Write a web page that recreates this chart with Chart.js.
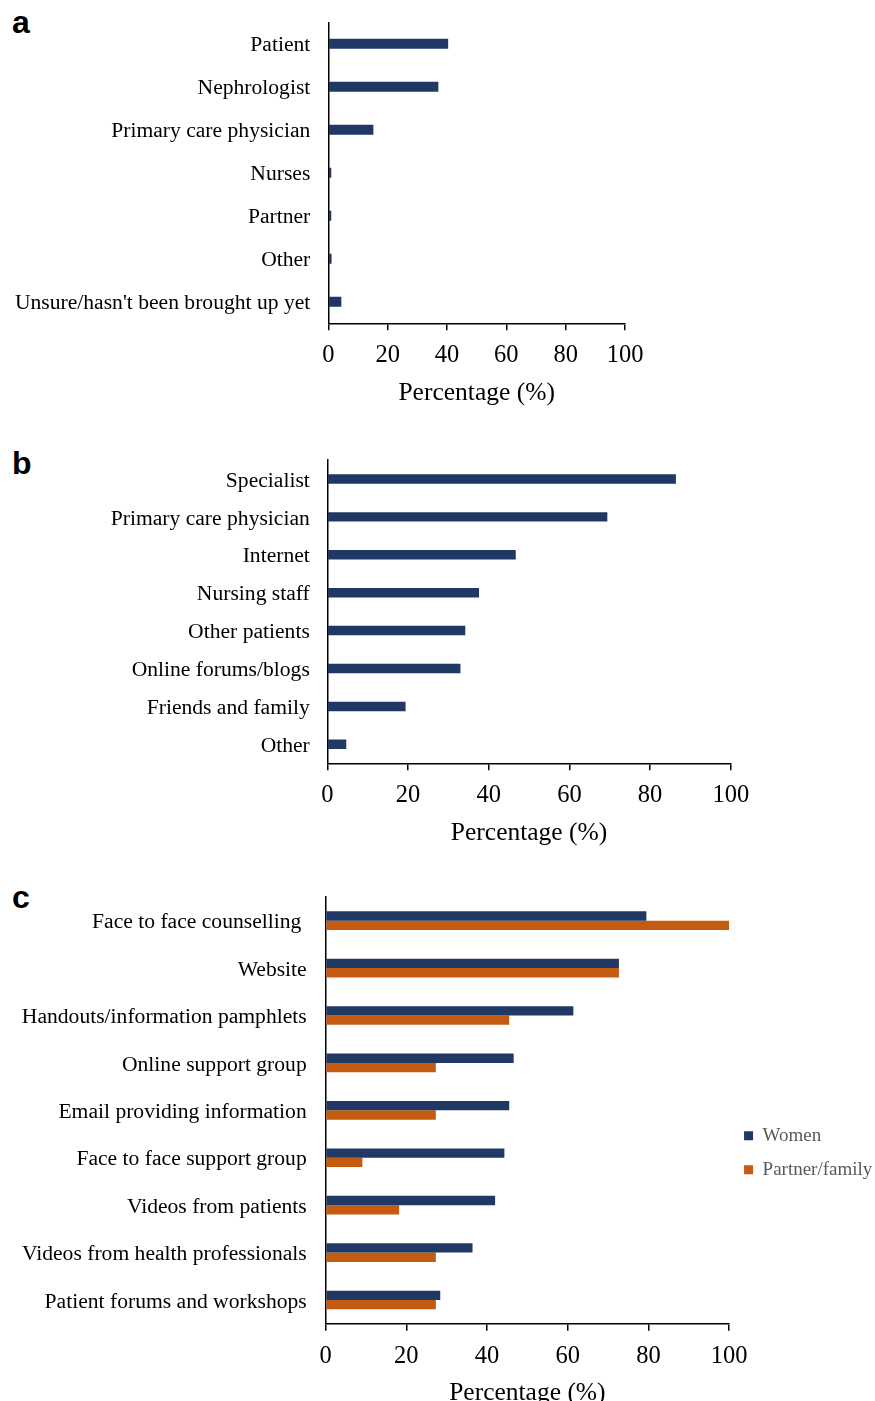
<!DOCTYPE html>
<html>
<head>
<meta charset="utf-8">
<title>Decision roles, information sources and preferred formats</title>
<script src="https://cdn.jsdelivr.net/npm/chart.js@4.4.1/dist/chart.umd.min.js"></script>
<style>
  html, body { margin: 0; padding: 0; background: #fff; }
  body { position: relative; width: 875px; height: 1401px; overflow: hidden; }
  canvas { position: absolute; left: 0; }
  .panel-tag {
    position: absolute; left: 12px;
    font: bold 32px "Liberation Sans", Arial, sans-serif;
    line-height: 32px; color: #000;
  }
</style>
</head>
<body>
<div class="panel-tag" style="top:6px">a</div>
<div class="panel-tag" style="top:447px">b</div>
<div class="panel-tag" style="top:881px">c</div>

<canvas id="chartA" width="875" height="410" style="top:0px"></canvas>
<canvas id="chartB" width="875" height="420" style="top:430px"></canvas>
<canvas id="chartC" width="883" height="532" style="top:877px"></canvas>

<script>
// (a) Who raises the topic
const rolesA = ['Patient', 'Nephrologist', 'Primary care physician', 'Nurses', 'Partner', 'Other', "Unsure/hasn't been brought up yet"];
const valuesA = [40.4, 37.1, 15.2, 1.0, 1.0, 1.1, 4.4];

// (b) Sources of information
const sourcesB = ['Specialist', 'Primary care physician', 'Internet', 'Nursing staff', 'Other patients', 'Online forums/blogs', 'Friends and family', 'Other'];
const valuesB = [86.4, 69.4, 46.7, 37.6, 34.2, 33.0, 19.4, 4.7];

// (c) Preferred information formats
const formatsC = ['Face to face counselling ', 'Website', 'Handouts/information pamphlets', 'Online support group', 'Email providing information', 'Face to face support group', 'Videos from patients', 'Videos from health professionals', 'Patient forums and workshops'];
const womenC = [79.5, 72.7, 61.4, 46.6, 45.5, 44.3, 42.0, 36.4, 28.4];
const partnerC = [100, 72.7, 45.5, 27.3, 27.3, 9.1, 18.2, 27.3, 27.3];
const seriesNamesC = ['Women', 'Partner/family'];

// Percentage axis
const pctMin = 0;
const pctMax = 100;
const pctStep = 20;
const pctTitle = 'Percentage (%)';

const NAVY = '#1F3864';
const ORANGE = '#C55A11';
const SERIF = '"Liberation Serif", "Times New Roman", serif';

function buildChart(id, labels, datasets, geo) {
  return new Chart(document.getElementById(id), {
    type: 'bar',
    data: { labels: labels, datasets: datasets },
    options: {
      indexAxis: 'y',
      responsive: false,
      animation: false,
      devicePixelRatio: 1,
      layout: { padding: geo.padding },
      datasets: { bar: { categoryPercentage: geo.catPct, barPercentage: geo.barPct, borderWidth: 0 } },
      plugins: {
        legend: geo.legend || { display: false },
        tooltip: { enabled: false }
      },
      scales: {
        y: {
          grid: { display: false, drawTicks: false },
          border: { display: true, color: '#000', width: 1.5 },
          ticks: {
            color: '#000', padding: geo.labelGap, labelOffset: 2,
            font: { family: SERIF, size: 21.6 }
          },
          afterFit: (s) => { s.width = geo.axisLeft; s.paddingTop = 0; s.paddingBottom = 0; }
        },
        x: {
          min: pctMin, max: pctMax,
          grid: { drawOnChartArea: false, drawTicks: true, tickLength: 7, color: '#000', lineWidth: 1.5 },
          border: { display: true, color: '#000', width: 1.5 },
          ticks: {
            stepSize: pctStep, color: '#000', padding: 10.8,
            font: { family: SERIF, size: 24.5 }
          },
          title: {
            display: true, text: pctTitle, color: '#000',
            padding: { top: 0, bottom: 0 },
            font: { family: SERIF, size: 25.5 }
          },
          afterFit: (s) => { s.height = 85; s.paddingLeft = 0; s.paddingRight = 0; }
        }
      }
    }
  });
}

buildChart('chartA', rolesA,
  [{ label: 'Respondents', data: valuesA, backgroundColor: NAVY }],
  { padding: { top: 22.3, bottom: 1.7, left: 0, right: 250 }, axisLeft: 328.3, labelGap: 18, catPct: 1, barPct: 0.235 });

buildChart('chartB', sourcesB,
  [{ label: 'Respondents', data: valuesB, backgroundColor: NAVY }],
  { padding: { top: 30, bottom: 1.7, left: 0, right: 144.2 }, axisLeft: 327.3, labelGap: 17.5, catPct: 1, barPct: 0.25 });

buildChart('chartC', formatsC,
  [
    { label: seriesNamesC[0], data: womenC, backgroundColor: NAVY },
    { label: seriesNamesC[1], data: partnerC, backgroundColor: ORANGE }
  ],
  {
    padding: { top: 20, bottom: 0.3, left: 0, right: 0.7 }, axisLeft: 325.7, labelGap: 19, catPct: 0.394, barPct: 1,
    legend: {
      display: true, position: 'right', align: 'center',
      labels: {
        boxWidth: 9, boxHeight: 9, padding: 15, color: '#595959',
        font: { family: SERIF, size: 19 }
      }
    }
  });
</script>
</body>
</html>
